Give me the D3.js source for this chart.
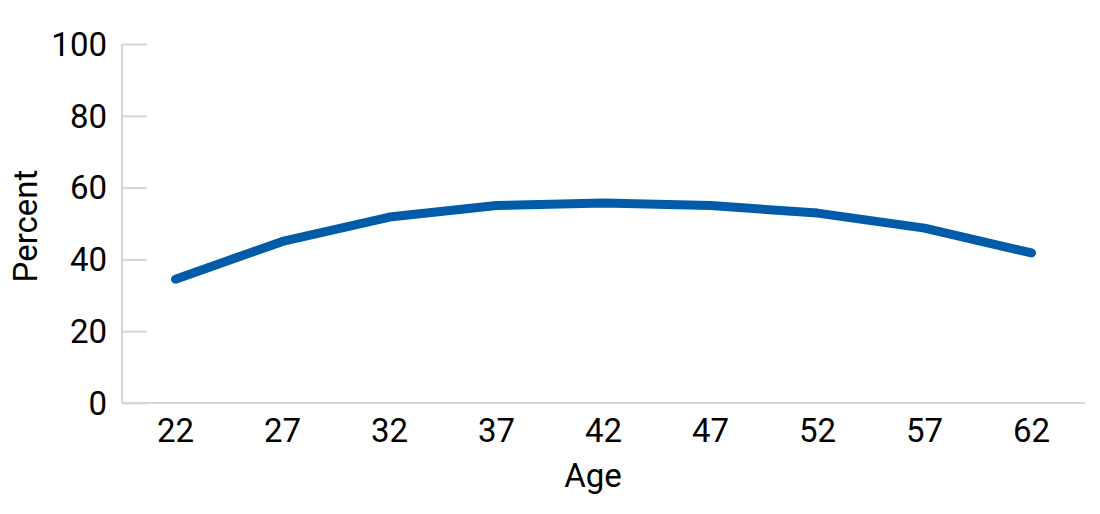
<!DOCTYPE html>
<html lang="en">
<head>
<meta charset="utf-8">
<title>Percent by age</title>
<script src="https://cdn.jsdelivr.net/npm/d3@7"></script>
<style>
  body { margin: 0; background: #fff; }
  svg text { font-family: Roboto, "Noto Sans", sans-serif; fill: #000; }
</style>
</head>
<body>
<svg id="chart"></svg>
<script>
// data
const ages = [22, 27, 32, 37, 42, 47, 52, 57, 62];
const percents = [34.5, 45.0, 51.8, 55.0, 55.7, 55.0, 52.9, 48.7, 41.8];
const yTicks = [0, 20, 40, 60, 80, 100];

const width = 1100, height = 514;
const margin = {top: 44, right: 15, bottom: 111, left: 122};

const svg = d3.select('#chart')
  .attr('width', width)
  .attr('height', height);

const x = d3.scalePoint()
  .domain(ages)
  .range([margin.left, width - margin.right])
  .padding(0.5);

const y = d3.scaleLinear()
  .domain([0, 100])
  .range([height - margin.bottom, margin.top]);

// y axis: vertical line plus short grey ticks pointing into the plot
const yAxis = svg.append('g')
  .attr('transform', `translate(${margin.left},0)`)
  .call(d3.axisRight(y).tickValues(yTicks).tickSize(25).tickFormat(''));
yAxis.select('.domain').remove();
yAxis.selectAll('line').attr('stroke', '#d3d6db').attr('stroke-width', 2);

svg.append('line')
  .attr('x1', margin.left).attr('x2', margin.left)
  .attr('y1', y(100)).attr('y2', y(0))
  .attr('stroke', '#d3d6db').attr('stroke-width', 2);

svg.append('g')
  .selectAll('text')
  .data(yTicks)
  .enter().append('text')
  .attr('x', margin.left - 15)
  .attr('y', d => y(d))
  .attr('dy', '0.36em')
  .attr('text-anchor', 'end')
  .style('font-size', '33px')
  .text(d => d);

// x axis line, no tick marks
svg.append('line')
  .attr('x1', margin.left).attr('x2', width - margin.right)
  .attr('y1', y(0)).attr('y2', y(0))
  .attr('stroke', '#d3d6db').attr('stroke-width', 2);

svg.append('g')
  .selectAll('text')
  .data(ages)
  .enter().append('text')
  .attr('x', d => x(d))
  .attr('y', 442)
  .attr('text-anchor', 'middle')
  .style('font-size', '33px')
  .text(d => d);

// axis titles
svg.append('text')
  .attr('x', 593)
  .attr('y', 487)
  .attr('text-anchor', 'middle')
  .style('font-size', '33px')
  .text('Age');

svg.append('text')
  .attr('transform', `translate(37,226) rotate(-90)`)
  .attr('text-anchor', 'middle')
  .style('font-size', '33px')
  .text('Percent');

// the line
const line = d3.line()
  .x((d, i) => x(ages[i]))
  .y(d => y(d));

svg.append('path')
  .datum(percents)
  .attr('d', line)
  .attr('fill', 'none')
  .attr('stroke', '#005ca8')
  .attr('stroke-width', 9)
  .attr('stroke-linecap', 'round')
  .attr('stroke-linejoin', 'round');
</script>
</body>
</html>
